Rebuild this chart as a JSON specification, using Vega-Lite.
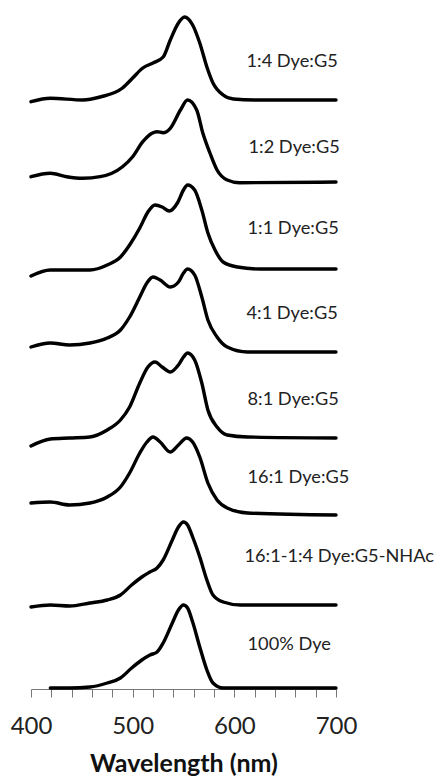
{
  "$schema": "https://vega.github.io/schema/vega-lite/v6.json",
  "width": 305,
  "height": 684,
  "autosize": {"type": "none"},
  "padding": {"left": 31, "right": 103, "top": 5, "bottom": 88},
  "background": "white",
  "config": {"view": {"stroke": null}},
  "datasets": {
    "spectra": [
      {"s": "1:4 Dye:G5", "nm": 400, "v": 587.3}, {"s": "1:4 Dye:G5", "nm": 419, "v": 590.7}, {"s": "1:4 Dye:G5", "nm": 451, "v": 589}, {"s": "1:4 Dye:G5", "nm": 468, "v": 592}, {"s": "1:4 Dye:G5", "nm": 490, "v": 601}, {"s": "1:4 Dye:G5", "nm": 500, "v": 611}, {"s": "1:4 Dye:G5", "nm": 510, "v": 621}, {"s": "1:4 Dye:G5", "nm": 520, "v": 626}, {"s": "1:4 Dye:G5", "nm": 530, "v": 632}, {"s": "1:4 Dye:G5", "nm": 537, "v": 649}, {"s": "1:4 Dye:G5", "nm": 545, "v": 666}, {"s": "1:4 Dye:G5", "nm": 551, "v": 672}, {"s": "1:4 Dye:G5", "nm": 559, "v": 664}, {"s": "1:4 Dye:G5", "nm": 566, "v": 646}, {"s": "1:4 Dye:G5", "nm": 573, "v": 622}, {"s": "1:4 Dye:G5", "nm": 579, "v": 606}, {"s": "1:4 Dye:G5", "nm": 589, "v": 594}, {"s": "1:4 Dye:G5", "nm": 599, "v": 590}, {"s": "1:4 Dye:G5", "nm": 620, "v": 589}, {"s": "1:4 Dye:G5", "nm": 700, "v": 589},
      {"s": "1:2 Dye:G5", "nm": 400, "v": 512.3}, {"s": "1:2 Dye:G5", "nm": 419, "v": 515.7}, {"s": "1:2 Dye:G5", "nm": 435, "v": 512.3}, {"s": "1:2 Dye:G5", "nm": 451, "v": 510.7}, {"s": "1:2 Dye:G5", "nm": 468, "v": 512.3}, {"s": "1:2 Dye:G5", "nm": 490, "v": 522.3}, {"s": "1:2 Dye:G5", "nm": 500, "v": 532.3}, {"s": "1:2 Dye:G5", "nm": 510, "v": 547.3}, {"s": "1:2 Dye:G5", "nm": 519, "v": 555.7}, {"s": "1:2 Dye:G5", "nm": 524, "v": 557.3}, {"s": "1:2 Dye:G5", "nm": 530, "v": 556.3}, {"s": "1:2 Dye:G5", "nm": 537, "v": 560.7}, {"s": "1:2 Dye:G5", "nm": 547, "v": 579}, {"s": "1:2 Dye:G5", "nm": 554, "v": 589}, {"s": "1:2 Dye:G5", "nm": 563, "v": 579}, {"s": "1:2 Dye:G5", "nm": 569, "v": 556}, {"s": "1:2 Dye:G5", "nm": 576, "v": 536}, {"s": "1:2 Dye:G5", "nm": 583, "v": 519}, {"s": "1:2 Dye:G5", "nm": 593, "v": 509}, {"s": "1:2 Dye:G5", "nm": 605, "v": 506.3}, {"s": "1:2 Dye:G5", "nm": 700, "v": 507},
      {"s": "1:1 Dye:G5", "nm": 400, "v": 413}, {"s": "1:1 Dye:G5", "nm": 419, "v": 419}, {"s": "1:1 Dye:G5", "nm": 438, "v": 419}, {"s": "1:1 Dye:G5", "nm": 458, "v": 419}, {"s": "1:1 Dye:G5", "nm": 475, "v": 424}, {"s": "1:1 Dye:G5", "nm": 488, "v": 432}, {"s": "1:1 Dye:G5", "nm": 497, "v": 444}, {"s": "1:1 Dye:G5", "nm": 507, "v": 461}, {"s": "1:1 Dye:G5", "nm": 515, "v": 477}, {"s": "1:1 Dye:G5", "nm": 522, "v": 484}, {"s": "1:1 Dye:G5", "nm": 529, "v": 482}, {"s": "1:1 Dye:G5", "nm": 536, "v": 478}, {"s": "1:1 Dye:G5", "nm": 544, "v": 486}, {"s": "1:1 Dye:G5", "nm": 550, "v": 499}, {"s": "1:1 Dye:G5", "nm": 554, "v": 504}, {"s": "1:1 Dye:G5", "nm": 561, "v": 499}, {"s": "1:1 Dye:G5", "nm": 568, "v": 479}, {"s": "1:1 Dye:G5", "nm": 574, "v": 456}, {"s": "1:1 Dye:G5", "nm": 581, "v": 439}, {"s": "1:1 Dye:G5", "nm": 589, "v": 427}, {"s": "1:1 Dye:G5", "nm": 603, "v": 422}, {"s": "1:1 Dye:G5", "nm": 625, "v": 420}, {"s": "1:1 Dye:G5", "nm": 700, "v": 420},
      {"s": "4:1 Dye:G5", "nm": 400, "v": 342}, {"s": "4:1 Dye:G5", "nm": 419, "v": 346}, {"s": "4:1 Dye:G5", "nm": 438, "v": 344}, {"s": "4:1 Dye:G5", "nm": 458, "v": 346}, {"s": "4:1 Dye:G5", "nm": 475, "v": 351}, {"s": "4:1 Dye:G5", "nm": 488, "v": 359}, {"s": "4:1 Dye:G5", "nm": 497, "v": 372}, {"s": "4:1 Dye:G5", "nm": 507, "v": 392}, {"s": "4:1 Dye:G5", "nm": 514, "v": 406}, {"s": "4:1 Dye:G5", "nm": 520, "v": 412}, {"s": "4:1 Dye:G5", "nm": 527, "v": 409}, {"s": "4:1 Dye:G5", "nm": 537, "v": 402}, {"s": "4:1 Dye:G5", "nm": 545, "v": 407}, {"s": "4:1 Dye:G5", "nm": 550, "v": 416}, {"s": "4:1 Dye:G5", "nm": 554, "v": 420}, {"s": "4:1 Dye:G5", "nm": 561, "v": 414}, {"s": "4:1 Dye:G5", "nm": 568, "v": 392}, {"s": "4:1 Dye:G5", "nm": 574, "v": 369}, {"s": "4:1 Dye:G5", "nm": 583, "v": 352}, {"s": "4:1 Dye:G5", "nm": 593, "v": 342}, {"s": "4:1 Dye:G5", "nm": 613, "v": 337}, {"s": "4:1 Dye:G5", "nm": 700, "v": 337},
      {"s": "8:1 Dye:G5", "nm": 400, "v": 243}, {"s": "8:1 Dye:G5", "nm": 419, "v": 250}, {"s": "8:1 Dye:G5", "nm": 438, "v": 251}, {"s": "8:1 Dye:G5", "nm": 458, "v": 252}, {"s": "8:1 Dye:G5", "nm": 475, "v": 259}, {"s": "8:1 Dye:G5", "nm": 488, "v": 269}, {"s": "8:1 Dye:G5", "nm": 497, "v": 282}, {"s": "8:1 Dye:G5", "nm": 507, "v": 306}, {"s": "8:1 Dye:G5", "nm": 515, "v": 322}, {"s": "8:1 Dye:G5", "nm": 522, "v": 327}, {"s": "8:1 Dye:G5", "nm": 529, "v": 322}, {"s": "8:1 Dye:G5", "nm": 537, "v": 317}, {"s": "8:1 Dye:G5", "nm": 545, "v": 324}, {"s": "8:1 Dye:G5", "nm": 550, "v": 332}, {"s": "8:1 Dye:G5", "nm": 554, "v": 336}, {"s": "8:1 Dye:G5", "nm": 561, "v": 329}, {"s": "8:1 Dye:G5", "nm": 568, "v": 306}, {"s": "8:1 Dye:G5", "nm": 574, "v": 279}, {"s": "8:1 Dye:G5", "nm": 583, "v": 262}, {"s": "8:1 Dye:G5", "nm": 593, "v": 254}, {"s": "8:1 Dye:G5", "nm": 613, "v": 252}, {"s": "8:1 Dye:G5", "nm": 700, "v": 251},
      {"s": "16:1 Dye:G5", "nm": 400, "v": 186}, {"s": "16:1 Dye:G5", "nm": 419, "v": 187}, {"s": "16:1 Dye:G5", "nm": 438, "v": 184}, {"s": "16:1 Dye:G5", "nm": 458, "v": 186}, {"s": "16:1 Dye:G5", "nm": 475, "v": 192}, {"s": "16:1 Dye:G5", "nm": 488, "v": 202}, {"s": "16:1 Dye:G5", "nm": 497, "v": 216}, {"s": "16:1 Dye:G5", "nm": 507, "v": 236}, {"s": "16:1 Dye:G5", "nm": 514, "v": 247}, {"s": "16:1 Dye:G5", "nm": 520, "v": 252}, {"s": "16:1 Dye:G5", "nm": 527, "v": 247}, {"s": "16:1 Dye:G5", "nm": 537, "v": 237}, {"s": "16:1 Dye:G5", "nm": 545, "v": 244}, {"s": "16:1 Dye:G5", "nm": 553, "v": 251}, {"s": "16:1 Dye:G5", "nm": 559, "v": 247}, {"s": "16:1 Dye:G5", "nm": 566, "v": 232}, {"s": "16:1 Dye:G5", "nm": 574, "v": 206}, {"s": "16:1 Dye:G5", "nm": 583, "v": 189}, {"s": "16:1 Dye:G5", "nm": 593, "v": 181}, {"s": "16:1 Dye:G5", "nm": 613, "v": 176}, {"s": "16:1 Dye:G5", "nm": 700, "v": 174},
      {"s": "NHAc", "nm": 400, "v": 82}, {"s": "NHAc", "nm": 419, "v": 84}, {"s": "NHAc", "nm": 438, "v": 83}, {"s": "NHAc", "nm": 458, "v": 86}, {"s": "NHAc", "nm": 475, "v": 89}, {"s": "NHAc", "nm": 488, "v": 94}, {"s": "NHAc", "nm": 499, "v": 104}, {"s": "NHAc", "nm": 509, "v": 112}, {"s": "NHAc", "nm": 517, "v": 117}, {"s": "NHAc", "nm": 524, "v": 121}, {"s": "NHAc", "nm": 530, "v": 129}, {"s": "NHAc", "nm": 539, "v": 149}, {"s": "NHAc", "nm": 545, "v": 162}, {"s": "NHAc", "nm": 550, "v": 167}, {"s": "NHAc", "nm": 554, "v": 164}, {"s": "NHAc", "nm": 559, "v": 152}, {"s": "NHAc", "nm": 566, "v": 132}, {"s": "NHAc", "nm": 573, "v": 109}, {"s": "NHAc", "nm": 579, "v": 94}, {"s": "NHAc", "nm": 589, "v": 87}, {"s": "NHAc", "nm": 606, "v": 84}, {"s": "NHAc", "nm": 700, "v": 84},
      {"s": "100% Dye", "nm": 419, "v": 1}, {"s": "100% Dye", "nm": 438, "v": 1}, {"s": "100% Dye", "nm": 458, "v": 2}, {"s": "100% Dye", "nm": 475, "v": 6}, {"s": "100% Dye", "nm": 488, "v": 11}, {"s": "100% Dye", "nm": 499, "v": 21}, {"s": "100% Dye", "nm": 509, "v": 29}, {"s": "100% Dye", "nm": 517, "v": 34}, {"s": "100% Dye", "nm": 524, "v": 37}, {"s": "100% Dye", "nm": 530, "v": 46}, {"s": "100% Dye", "nm": 539, "v": 66}, {"s": "100% Dye", "nm": 545, "v": 79}, {"s": "100% Dye", "nm": 550, "v": 84}, {"s": "100% Dye", "nm": 554, "v": 81}, {"s": "100% Dye", "nm": 559, "v": 67}, {"s": "100% Dye", "nm": 566, "v": 42}, {"s": "100% Dye", "nm": 573, "v": 19}, {"s": "100% Dye", "nm": 579, "v": 6}, {"s": "100% Dye", "nm": 589, "v": 1}, {"s": "100% Dye", "nm": 700, "v": 1}
    ],
    "labels": [
      {"label": "1:4 Dye:G5", "nm": 612, "v": 627},
      {"label": "1:2 Dye:G5", "nm": 614, "v": 541},
      {"label": "1:1 Dye:G5", "nm": 613, "v": 460},
      {"label": "4:1 Dye:G5", "nm": 612, "v": 375},
      {"label": "8:1 Dye:G5", "nm": 613, "v": 289},
      {"label": "16:1 Dye:G5", "nm": 613, "v": 211},
      {"label": "16:1-1:4 Dye:G5-NHAc", "nm": 610, "v": 132},
      {"label": "100% Dye", "nm": 613, "v": 44}
    ]
  },
  "resolve": {"axis": {"x": "independent"}},
  "layer": [
    {
      "data": {"name": "spectra"},
      "mark": {"type": "line", "interpolate": "monotone", "strokeWidth": 3.4, "color": "#000", "strokeCap": "round", "strokeJoin": "round"},
      "encoding": {
        "x": {
          "field": "nm", "type": "quantitative",
          "scale": {"domain": [400, 700], "nice": false, "zero": false},
          "axis": {
            "orient": "bottom",
            "title": "Wavelength (nm)",
            "values": [400, 500, 600, 700],
            "labelOverlap": false,
            "labelFlush": false,
            "grid": false,
            "domainColor": "#777",
            "tickColor": "#777",
            "tickSize": 8,
            "labelFont": "Lato",
            "labelFontSize": 24,
            "labelColor": "#222",
            "labelPadding": 17,
            "titleFont": "Lato",
            "titleFontSize": 25,
            "titleFontWeight": "bold",
            "titleColor": "#111",
            "titlePadding": 13
          }
        },
        "y": {"field": "v", "type": "quantitative", "scale": {"domain": [0, 684], "nice": false}, "axis": null},
        "detail": {"field": "s"}
      }
    },
    {
      "data": {"name": "labels"},
      "mark": {"type": "text", "align": "left", "baseline": "middle", "font": "Lato", "fontSize": 18.2, "color": "#222"},
      "encoding": {
        "x": {
          "field": "nm", "type": "quantitative",
          "scale": {"domain": [400, 700], "nice": false, "zero": false},
          "axis": {
            "orient": "bottom",
            "title": null,
            "values": [420, 440, 460, 480, 520, 540, 560, 580, 620, 640, 660, 680],
            "labels": false,
            "domain": false,
            "grid": false,
            "tickColor": "#777",
            "tickSize": 8
          }
        },
        "y": {"field": "v", "type": "quantitative"},
        "text": {"field": "label"}
      }
    }
  ]
}
